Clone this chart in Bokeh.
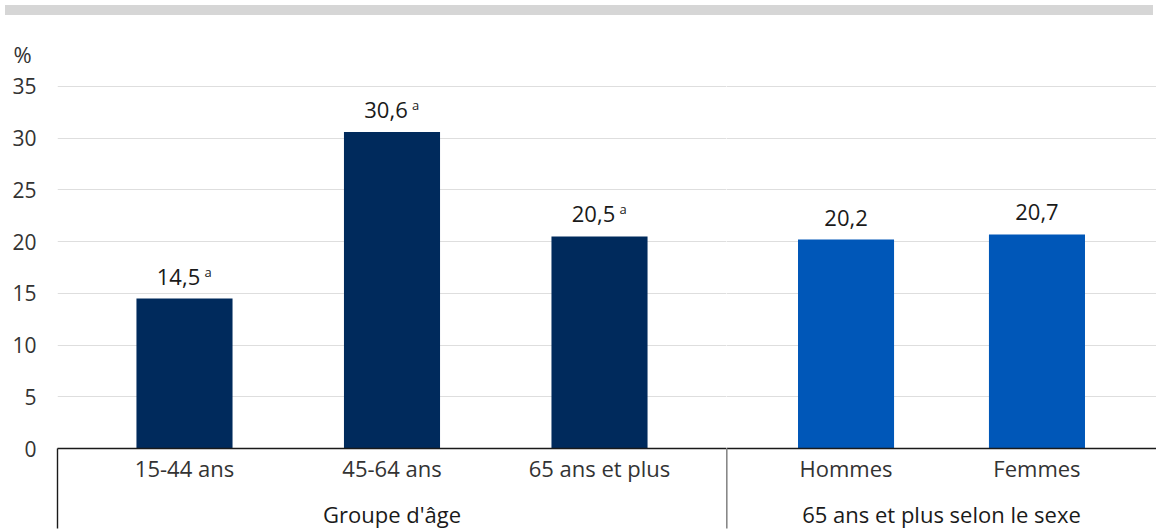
from bokeh.plotting import figure
from bokeh.models import FactorRange, Range1d, FixedTicker, ColumnDataSource, Div, Grid
from bokeh.layouts import column, row
from bokeh.embed import file_html
from bokeh.resources import INLINE
from bokeh.core.properties import value

# ---- data ----
y_ticks = [0, 5, 10, 15, 20, 25, 30, 35]
group_titles = ["Groupe d'âge", "65 ans et plus selon le sexe"]
age_groups = ["15-44 ans", "45-64 ans", "65 ans et plus"]
age_values = [14.5, 30.6, 20.5]
age_notes = ["a", "a", "a"]
sex_groups = ["Hommes", "Femmes"]
sex_values = [20.2, 20.7]
sex_notes = ["", ""]
unit_label = "%"

# ---- style ----
FONT = "Open Sans"
NAVY = "#002a5c"
BLUE = "#0057b8"
GRID = "#dedede"
Y_MAX = 35.29
FRAME_H = 365
PX_PER_UNIT = FRAME_H / Y_MAX
DROP = 80 / PX_PER_UNIT
SPACER = " "  # blank middle level, only used to space the group row


def fmt(v):
    return f"{v:.1f}".replace(".", ",")


def make_panel(group, cats, vals, notes, color, frame_w, pad, bar_w,
               left_axis, rule_color, rule_width):
    factors = [(group, SPACER, c) for c in cats]
    xr = FactorRange(factors=factors, range_padding=pad,
                     range_padding_units="absolute")
    p = figure(x_range=xr, y_range=Range1d(0, Y_MAX),
               frame_width=frame_w, frame_height=FRAME_H,
               output_backend="svg", toolbar_location=None,
               min_border_top=63, min_border_bottom=75,
               min_border_left=57 if left_axis else 0, min_border_right=0,
               y_axis_location="left" if left_axis else None)
    p.outline_line_color = None
    p.background_fill_color = "white"
    p.border_fill_color = "white"
    p.xgrid.visible = False
    if left_axis:
        p.ygrid.visible = False
        ax = p.yaxis[0]
        ax.ticker = FixedTicker(ticks=y_ticks)
        ax.axis_line_color = None
        ax.major_tick_line_color = None
        ax.minor_tick_line_color = None
        ax.major_tick_out = 0
        ax.major_label_standoff = 21
        ax.major_label_text_font = FONT
        ax.major_label_text_font_size = "21px"
        ax.major_label_text_color = "#333333"
    p.add_layout(Grid(dimension=1, ticker=FixedTicker(ticks=y_ticks),
                      grid_line_color=GRID, grid_line_width=1))

    labels = [fmt(v) for v in vals]
    dx = [-6 if n else 0 for n in notes]
    sx = [20 if n else 0 for n in notes]
    src = ColumnDataSource(dict(x=factors, top=vals, label=labels,
                                note=notes, dx=dx, sx=sx))
    p.vbar(x="x", top="top", width=bar_w, source=src,
           fill_color=color, line_color=None)
    p.text(x="x", y="top", text="label", source=src, x_offset="dx",
           y_offset=-22, text_align="center", text_baseline="alphabetic",
           text_font=value(FONT), text_font_size="22px", text_color="#1a1a1a")
    p.text(x="x", y="top", text="note", source=src, x_offset="sx",
           y_offset=-27, text_align="left", text_baseline="alphabetic",
           text_font=value(FONT), text_font_size="13px", text_color="#1a1a1a")

    xa = p.xaxis[0]
    xa.axis_line_color = "#1a1a1a"
    xa.axis_line_width = 1.3
    xa.major_tick_line_color = None
    xa.minor_tick_line_color = None
    xa.major_label_standoff = -2
    xa.major_label_text_font = FONT
    xa.major_label_text_font_size = "22px"
    xa.major_label_text_color = "#333333"
    xa.subgroup_text_font = FONT
    xa.subgroup_text_font_size = "10px"
    xa.subgroup_text_font_style = "normal"
    xa.group_text_font = FONT
    xa.group_text_font_size = "22px"
    xa.group_text_font_style = "normal"
    xa.group_text_color = "#1a1a1a"
    xa.separator_line_alpha = 0

    # vertical rule below the axis at the left edge of the panel
    p.segment(x0=[-pad], y0=[0], x1=[-pad], y1=[-DROP],
              line_color=rule_color, line_width=rule_width, level="overlay")
    return p


left = make_panel(group_titles[0], age_groups, age_values, age_notes, NAVY,
                  669, 0.112, 0.463, True, "#1a1a1a", 1.4)
left.title.text = unit_label
left.title.align = "left"
left.title.offset = -44
left.title.standoff = 30
left.title.text_font = FONT
left.title.text_font_size = "22px"
left.title.text_font_style = "normal"
left.title.text_color = "#333333"

right = make_panel(group_titles[1], sex_groups, sex_values, sex_notes, BLUE,
                   430, 0.126, 0.503, False, "#888888", 2.2)

band = Div(text="", width=1148, height=10,
           styles={"background-color": "#d6d6d6"})

layout = column(band, row(left, right))

open("out.html", "w").write(file_html(layout, INLINE))
